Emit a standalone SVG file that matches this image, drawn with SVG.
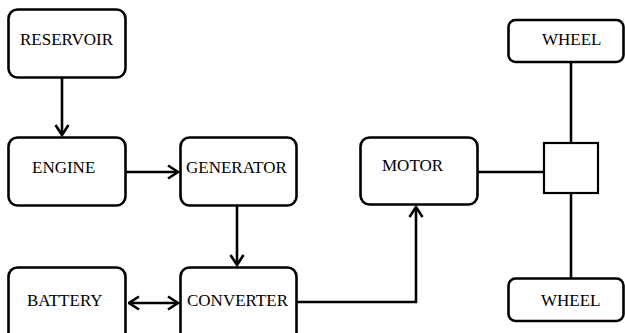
<svg xmlns="http://www.w3.org/2000/svg" width="625" height="333" viewBox="0 0 625 333">
<style>
.box{fill:#fff;stroke:#000;stroke-width:2.6}
.sq{fill:#fff;stroke:#000;stroke-width:2.2}
.lbl{font-family:"Liberation Serif","Times New Roman",serif;font-size:17px;fill:#000}
.ln{fill:none;stroke:#000;stroke-width:2.6}
</style>
<defs>
<marker id="ah" viewBox="0 0 13 16" refX="11.5" refY="8" markerWidth="13" markerHeight="16" markerUnits="userSpaceOnUse" orient="auto-start-reverse">
<path d="M1.5,1.5 L11.5,8 L1.5,14.5" fill="none" stroke="#000" stroke-width="2.6"/>
</marker>
</defs>
<g id="connectors">
<line class="ln" x1="62" y1="78" x2="62" y2="135" marker-end="url(#ah)"/>
<line class="ln" x1="126" y1="172" x2="178" y2="172" marker-end="url(#ah)"/>
<line class="ln" x1="237" y1="206" x2="237" y2="265" marker-end="url(#ah)"/>
<line class="ln" x1="129" y1="303" x2="178" y2="303" marker-start="url(#ah)" marker-end="url(#ah)"/>
<polyline class="ln" points="297,302 416,302 416,207" marker-end="url(#ah)"/>
<line class="ln" x1="478" y1="172" x2="544" y2="172"/>
<line class="ln" x1="571" y1="62" x2="571" y2="143"/>
<line class="ln" x1="571" y1="193" x2="571" y2="278"/>
</g>
<g id="reservoir">
<rect class="box" x="8.5" y="9.5" width="117" height="68" rx="9"/>
<text class="lbl" x="20" y="45">RESERVOIR</text>
</g>
<g id="engine">
<rect class="box" x="8.5" y="137.5" width="117" height="68" rx="9"/>
<text class="lbl" x="32" y="173">ENGINE</text>
</g>
<g id="generator">
<rect class="box" x="180.5" y="137.5" width="116" height="68" rx="9"/>
<text class="lbl" x="186" y="173">GENERATOR</text>
</g>
<g id="battery">
<rect class="box" x="8.5" y="267.5" width="117" height="75" rx="9"/>
<text class="lbl" x="27" y="306">BATTERY</text>
</g>
<g id="converter">
<rect class="box" x="180.5" y="267.5" width="116" height="75" rx="9"/>
<text class="lbl" x="187" y="306">CONVERTER</text>
</g>
<g id="motor">
<rect class="box" x="360.5" y="137.5" width="117" height="67" rx="9"/>
<text class="lbl" x="382" y="171">MOTOR</text>
</g>
<g id="axle">
<rect class="sq" x="544" y="143" width="54" height="50"/>
</g>
<g id="wheel-top">
<rect class="box" x="508.5" y="20" width="115" height="42" rx="7"/>
<text class="lbl" x="542" y="45">WHEEL</text>
</g>
<g id="wheel-bottom">
<rect class="box" x="508.5" y="278.5" width="115" height="42.5" rx="7"/>
<text class="lbl" x="541" y="306">WHEEL</text>
</g>
</svg>
